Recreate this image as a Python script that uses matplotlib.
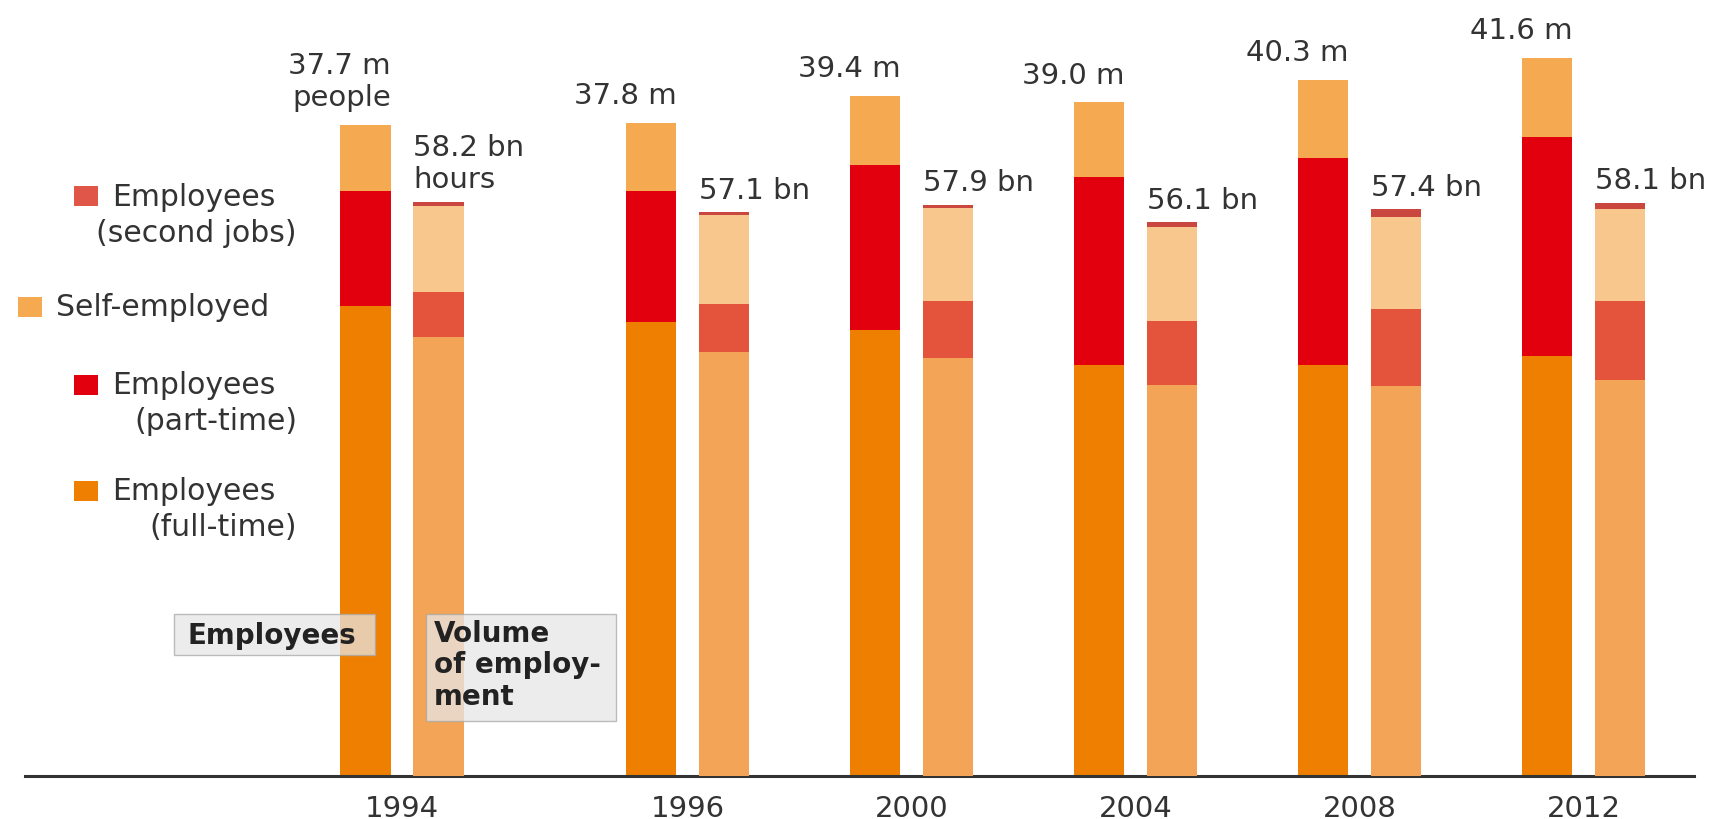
import matplotlib
matplotlib.use('Agg')
import matplotlib.pyplot as plt
from matplotlib.patches import Rectangle

# data
years = ['1994', '1996', '2000', '2004', '2008', '2012']

# employees, million people
emp_full = [27.2, 26.3, 25.8, 23.8, 23.8, 24.3]
emp_part = [6.7, 7.6, 9.6, 10.9, 12.0, 12.7]
emp_self = [3.8, 3.9, 4.0, 4.3, 4.5, 4.6]
emp_labels = ['37.7 m\npeople', '37.8 m', '39.4 m', '39.0 m', '40.3 m', '41.6 m']

# volume of employment, bn hours
vol_full = [44.5, 43.0, 42.4, 39.6, 39.5, 40.1]
vol_part = [4.5, 4.8, 5.7, 6.5, 7.8, 8.0]
vol_self = [8.8, 9.0, 9.4, 9.5, 9.3, 9.3]
vol_second = [0.4, 0.3, 0.4, 0.5, 0.8, 0.7]
vol_labels = ['58.2 bn\nhours', '57.1 bn', '57.9 bn', '56.1 bn', '57.4 bn', '58.1 bn']

# colours
c_full = '#EE7F00'
c_part = '#E2000F'
c_self = '#F5AA52'
c_second = '#E0574A'
v_full = '#F3A457'
v_part = '#E4533C'
v_self = '#F8C78E'
v_second = '#C9473F'
txt = '#333333'

plt.rcParams['font.family'] = ['DejaVu Sans']

W, H = 1714, 820
fig = plt.figure(figsize=(W / 100, H / 100), dpi=100)

# group positions (gap after 1994 is wider)
pos = [0, 1.275, 2.275, 3.275, 4.275, 5.275]
off = 0.163
bw = 0.225

ax = fig.add_axes([25 / W, 43 / H, 1669 / W, 777 / H])
ax2 = ax.twinx()

emp_x = [p - off for p in pos]
vol_x = [p + off for p in pos]

# employees bars
b1 = emp_full
b2 = [a + b for a, b in zip(emp_full, emp_part)]
ax.bar(emp_x, emp_full, bw, color=c_full, linewidth=0)
ax.bar(emp_x, emp_part, bw, bottom=b1, color=c_part, linewidth=0)
ax.bar(emp_x, emp_self, bw, bottom=b2, color=c_self, linewidth=0)
emp_tot = [a + b for a, b in zip(b2, emp_self)]

# volume bars
d1 = vol_full
d2 = [a + b for a, b in zip(d1, vol_part)]
d3 = [a + b for a, b in zip(d2, vol_self)]
ax2.bar(vol_x, vol_full, bw, color=v_full, linewidth=0)
ax2.bar(vol_x, vol_part, bw, bottom=d1, color=v_part, linewidth=0)
ax2.bar(vol_x, vol_self, bw, bottom=d2, color=v_self, linewidth=0)
ax2.bar(vol_x, vol_second, bw, bottom=d3, color=v_second, linewidth=0)
vol_tot = [a + b for a, b in zip(d3, vol_second)]

# scales: 17.27 px per million people, 9.87 px per bn hours
ax.set_ylim(0, 777 / 17.27)
ax2.set_ylim(0, 777 / 9.87)
ax.set_xlim(-1.683, 5.768)

for i in range(len(years)):
    ax.annotate(emp_labels[i], xy=(emp_x[i] + bw / 2, emp_tot[i]), xytext=(0, 10),
                textcoords='offset points', ha='right', va='bottom',
                multialignment='right', fontsize=21, color=txt, annotation_clip=False)
    ax2.annotate(vol_labels[i], xy=(vol_x[i] - bw / 2, vol_tot[i]), xytext=(0, 6),
                 textcoords='offset points', ha='left', va='bottom',
                 multialignment='left', fontsize=21, color=txt, annotation_clip=False)

# axes styling
for s in ['top', 'left', 'right']:
    ax.spines[s].set_visible(False)
    ax2.spines[s].set_visible(False)
ax2.spines['bottom'].set_visible(False)
ax.spines['bottom'].set_linewidth(2.2)
ax.spines['bottom'].set_color('#333333')
ax.set_yticks([])
ax2.set_yticks([])
ax.set_xticks(pos)
ax.set_xticklabels(years, fontsize=21, color=txt)
ax.tick_params(axis='x', length=0, pad=13)


def fx(x):
    return x / W


def fy(y):
    return 1 - y / H


# legend on the left
legend = [
    (c_second, 74, 197, 'Employees', '(second jobs)'),
    (c_self, 18, 308, 'Self-employed', None),
    (c_part, 74, 386, 'Employees', '(part-time)'),
    (c_full, 74, 492, 'Employees', '(full-time)'),
]
for col, sx, sy, l1, l2 in legend:
    fig.add_artist(Rectangle((fx(sx), fy(sy + 10)), 24 / W, 20 / H,
                             transform=fig.transFigure, color=col, linewidth=0))
    fig.text(fx(sx + 38), fy(sy), l1, ha='left', va='center', fontsize=21.5, color=txt)
    if l2:
        fig.text(fx(297), fy(sy + 36), l2, ha='right', va='center', fontsize=21.5, color=txt)

# boxes naming the two bar types
fig.add_artist(Rectangle((fx(174), fy(656)), 201 / W, 41 / H, transform=fig.transFigure,
                         facecolor='#e6e6e6', edgecolor='#a8a8a8', linewidth=1,
                         alpha=0.75, zorder=5))
fig.text(fx(188), fy(636), 'Employees', ha='left', va='center', fontsize=20,
         fontweight='bold', color='#222222', zorder=6)
fig.add_artist(Rectangle((fx(426), fy(722)), 190 / W, 107 / H, transform=fig.transFigure,
                         facecolor='#e6e6e6', edgecolor='#a8a8a8', linewidth=1,
                         alpha=0.75, zorder=5))
fig.text(fx(434), fy(620), 'Volume\nof employ-\nment', ha='left', va='top', fontsize=20,
         fontweight='bold', color='#222222', linespacing=1.15, zorder=6)

fig.savefig('out.png', dpi=100)
